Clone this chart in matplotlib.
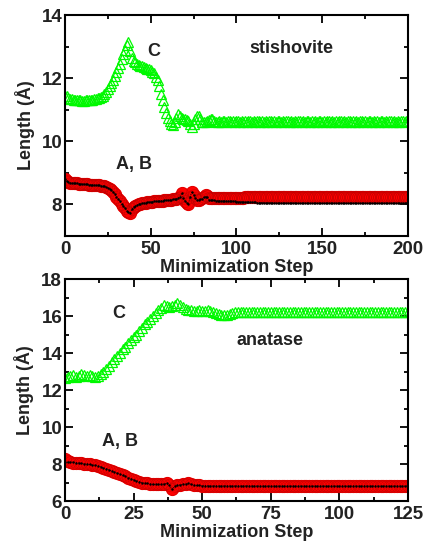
import numpy as np
import matplotlib.pyplot as plt
from matplotlib.ticker import MultipleLocator

plt.rcParams['font.family'] = ['Liberation Sans', 'DejaVu Sans']
plt.rcParams['font.weight'] = 'bold'
plt.rcParams['axes.labelweight'] = 'bold'

# stishovite cell lengths, one value per step (0..200)
stish_step = np.arange(0, 201)
stish_c = [11.45, 11.42, 11.38, 11.35, 11.33, 11.32, 11.30, 11.30, 11.31, 11.30,
           11.28, 11.29, 11.30, 11.31, 11.30, 11.30, 11.32, 11.33, 11.35, 11.36,
           11.38, 11.41, 11.45, 11.50, 11.55, 11.65, 11.75, 11.85, 11.95, 12.08,
           12.20, 12.32, 12.45, 12.60, 12.75, 12.90, 13.05, 13.15, 12.85, 12.65,
           12.55, 12.50, 12.45, 12.42, 12.40, 12.38, 12.35, 12.32, 12.30, 12.28,
           12.25, 12.20, 12.15, 12.05, 11.95, 11.75, 11.50, 11.30, 11.10, 10.90,
           10.75, 10.65, 10.55, 10.52, 10.60, 10.75, 10.85, 10.80, 10.75, 10.72,
           10.70, 10.68, 10.65, 10.55, 10.45, 10.55, 10.70, 10.80, 10.80, 10.70,
           10.62, 10.60, 10.60, 10.65, 10.68, 10.72, 10.70, 10.65, 10.62, 10.62,
           10.63, 10.62, 10.64, 10.63, 10.62, 10.63, 10.64, 10.62, 10.63, 10.62,
           10.63, 10.64, 10.62, 10.63, 10.62, 10.63, 10.62, 10.64, 10.63, 10.62,
           10.63, 10.62, 10.63, 10.64, 10.62, 10.63, 10.62, 10.63, 10.62, 10.64,
           10.63, 10.62, 10.63, 10.62, 10.64, 10.63, 10.62, 10.63, 10.62, 10.63,
           10.64, 10.62, 10.63, 10.62, 10.63, 10.62, 10.64, 10.63, 10.62, 10.63,
           10.62, 10.63, 10.64, 10.62, 10.63, 10.62, 10.63, 10.62, 10.64, 10.63,
           10.62, 10.63, 10.62, 10.63, 10.64, 10.62, 10.63, 10.62, 10.63, 10.62,
           10.64, 10.63, 10.62, 10.63, 10.62, 10.63, 10.64, 10.62, 10.63, 10.62,
           10.63, 10.62, 10.64, 10.63, 10.62, 10.63, 10.62, 10.63, 10.64, 10.62,
           10.63, 10.62, 10.63, 10.62, 10.64, 10.63, 10.62, 10.63, 10.62, 10.63,
           10.64, 10.62, 10.63, 10.62, 10.63, 10.62, 10.64, 10.63, 10.62, 10.63,
           10.63]
stish_a = [8.80, 8.74, 8.70, 8.69, 8.68, 8.68, 8.67, 8.67, 8.66, 8.66,
           8.65, 8.65, 8.64, 8.64, 8.63, 8.63, 8.62, 8.62, 8.61, 8.61,
           8.60, 8.59, 8.58, 8.57, 8.55, 8.53, 8.50, 8.46, 8.40, 8.33,
           8.25, 8.18, 8.10, 8.02, 7.95, 7.88, 7.80, 7.75, 7.72, 7.85,
           7.92, 7.95, 7.98, 8.00, 8.02, 8.04, 8.05, 8.06, 8.07, 8.08,
           8.08, 8.09, 8.10, 8.10, 8.10, 8.11, 8.12, 8.12, 8.13, 8.13,
           8.14, 8.14, 8.15, 8.16, 8.17, 8.18, 8.20, 8.25, 8.35, 8.20,
           8.10, 8.05, 8.00, 8.25, 8.40, 8.30, 8.20, 8.15, 8.15, 8.18,
           8.20, 8.25, 8.30, 8.28, 8.20, 8.19, 8.19, 8.19, 8.20, 8.20,
           8.20, 8.20, 8.20, 8.20, 8.20, 8.21, 8.21, 8.21, 8.21, 8.21,
           8.21, 8.21, 8.21, 8.21, 8.21, 8.22, 8.22, 8.22, 8.22, 8.22,
           8.22, 8.22, 8.22, 8.22, 8.22, 8.22, 8.22, 8.23, 8.23, 8.23,
           8.23, 8.23, 8.23, 8.23, 8.23, 8.23, 8.23, 8.23, 8.23, 8.24,
           8.24, 8.24, 8.24, 8.24, 8.24, 8.24, 8.24, 8.24, 8.24, 8.24,
           8.24, 8.24, 8.24, 8.25, 8.25, 8.25, 8.25, 8.25, 8.25, 8.25,
           8.25, 8.25, 8.25, 8.25, 8.25, 8.25, 8.25, 8.25, 8.25, 8.25,
           8.25, 8.25, 8.25, 8.25, 8.25, 8.25, 8.25, 8.25, 8.25, 8.25,
           8.25, 8.25, 8.25, 8.25, 8.25, 8.25, 8.24, 8.24, 8.24, 8.24,
           8.24, 8.24, 8.24, 8.24, 8.24, 8.24, 8.24, 8.24, 8.24, 8.24,
           8.24, 8.24, 8.24, 8.24, 8.24, 8.24, 8.24, 8.24, 8.24, 8.24,
           8.24]
stish_b = [8.80, 8.74, 8.70, 8.69, 8.68, 8.68, 8.67, 8.67, 8.66, 8.66,
           8.65, 8.65, 8.64, 8.64, 8.63, 8.63, 8.62, 8.62, 8.61, 8.61,
           8.60, 8.59, 8.58, 8.57, 8.55, 8.53, 8.50, 8.46, 8.40, 8.33,
           8.25, 8.18, 8.10, 8.02, 7.95, 7.88, 7.80, 7.75, 7.72, 7.85,
           7.92, 7.95, 7.98, 8.00, 8.02, 8.04, 8.05, 8.06, 8.07, 8.08,
           8.08, 8.09, 8.10, 8.10, 8.10, 8.11, 8.12, 8.12, 8.13, 8.13,
           8.14, 8.14, 8.15, 8.16, 8.17, 8.18, 8.20, 8.25, 8.35, 8.20,
           8.10, 8.05, 8.00, 8.25, 8.40, 8.30, 8.20, 8.15, 8.15, 8.18,
           8.18, 8.22, 8.25, 8.22, 8.15, 8.14, 8.13, 8.13, 8.12, 8.12,
           8.12, 8.12, 8.11, 8.11, 8.11, 8.11, 8.10, 8.10, 8.10, 8.10,
           8.09, 8.09, 8.09, 8.09, 8.08, 8.08, 8.08, 8.08, 8.07, 8.07,
           8.07, 8.07, 8.06, 8.06, 8.06, 8.06, 8.06, 8.05, 8.05, 8.05,
           8.05, 8.05, 8.05, 8.04, 8.04, 8.04, 8.04, 8.04, 8.04, 8.04,
           8.04, 8.04, 8.04, 8.04, 8.04, 8.03, 8.03, 8.03, 8.03, 8.03,
           8.03, 8.03, 8.03, 8.03, 8.03, 8.03, 8.03, 8.03, 8.03, 8.03,
           8.03, 8.03, 8.03, 8.03, 8.03, 8.03, 8.03, 8.03, 8.03, 8.03,
           8.03, 8.03, 8.03, 8.03, 8.03, 8.03, 8.03, 8.03, 8.03, 8.03,
           8.03, 8.03, 8.03, 8.03, 8.03, 8.03, 8.03, 8.03, 8.03, 8.03,
           8.03, 8.03, 8.03, 8.03, 8.03, 8.03, 8.03, 8.03, 8.03, 8.03,
           8.03, 8.03, 8.03, 8.03, 8.03, 8.03, 8.03, 8.03, 8.03, 8.03,
           8.03]

# anatase, one value per step (0..125)
anat_step = np.arange(0, 126)
anat_c = [12.65, 12.70, 12.75, 12.80, 12.72, 12.78, 12.85, 12.80, 12.75, 12.82,
          12.78, 12.72, 12.75, 12.85, 13.00, 13.15, 13.30, 13.50, 13.70, 13.85,
          14.00, 14.20, 14.35, 14.55, 14.70, 14.85, 15.00, 15.20, 15.35, 15.55,
          15.70, 15.85, 16.00, 16.15, 16.30, 16.45, 16.60, 16.55, 16.50, 16.55,
          16.60, 16.72, 16.60, 16.50, 16.40, 16.30, 16.30, 16.25, 16.28, 16.30,
          16.25, 16.28, 16.30, 16.25, 16.20, 16.15, 16.10, 16.05, 16.05, 16.08,
          16.12, 16.18, 16.20, 16.22, 16.20, 16.22, 16.20, 16.22, 16.20, 16.22,
          16.20, 16.22, 16.20, 16.22, 16.20, 16.22, 16.20, 16.22, 16.20, 16.22,
          16.20, 16.22, 16.20, 16.22, 16.20, 16.22, 16.20, 16.22, 16.20, 16.22,
          16.20, 16.22, 16.20, 16.22, 16.20, 16.22, 16.20, 16.22, 16.20, 16.22,
          16.20, 16.22, 16.20, 16.22, 16.20, 16.22, 16.20, 16.22, 16.20, 16.22,
          16.20, 16.22, 16.20, 16.22, 16.20, 16.22, 16.20, 16.22, 16.20, 16.22,
          16.20, 16.22, 16.20, 16.22, 16.20, 16.20]
anat_a = [8.28, 8.15, 8.10, 8.08, 8.06, 8.05, 8.03, 8.02, 8.00, 7.98,
          7.95, 7.93, 7.90, 7.85, 7.80, 7.75, 7.70, 7.63, 7.57, 7.51,
          7.45, 7.39, 7.33, 7.27, 7.21, 7.15, 7.10, 7.05, 7.00, 6.97,
          6.95, 6.93, 6.90, 6.90, 6.90, 6.90, 6.92, 6.95, 6.85, 6.65,
          6.80, 6.85, 6.88, 6.90, 6.92, 6.95, 6.90, 6.85, 6.84, 6.84,
          6.83, 6.83, 6.83, 6.82, 6.82, 6.82, 6.82, 6.82, 6.82, 6.82,
          6.82, 6.82, 6.82, 6.82, 6.82, 6.82, 6.82, 6.82, 6.82, 6.82,
          6.82, 6.82, 6.82, 6.82, 6.82, 6.82, 6.82, 6.82, 6.82, 6.82,
          6.82, 6.82, 6.82, 6.82, 6.82, 6.82, 6.82, 6.82, 6.82, 6.82,
          6.82, 6.82, 6.82, 6.82, 6.82, 6.82, 6.82, 6.82, 6.82, 6.82,
          6.82, 6.82, 6.82, 6.82, 6.82, 6.82, 6.82, 6.82, 6.82, 6.82,
          6.82, 6.82, 6.82, 6.82, 6.82, 6.82, 6.82, 6.82, 6.82, 6.82,
          6.82, 6.82, 6.82, 6.82, 6.82, 6.82]
anat_b = [8.10, 8.10, 8.10, 8.10, 8.08, 8.06, 8.03, 8.02, 8.00, 7.98,
          7.95, 7.93, 7.90, 7.85, 7.80, 7.75, 7.70, 7.63, 7.57, 7.51,
          7.45, 7.39, 7.33, 7.27, 7.21, 7.15, 7.10, 7.05, 7.00, 6.97,
          6.95, 6.93, 6.90, 6.90, 6.90, 6.90, 6.92, 6.95, 6.85, 6.65,
          6.80, 6.85, 6.88, 6.90, 6.92, 6.95, 6.90, 6.85, 6.84, 6.84,
          6.83, 6.83, 6.83, 6.82, 6.82, 6.82, 6.82, 6.82, 6.82, 6.82,
          6.82, 6.82, 6.82, 6.82, 6.82, 6.82, 6.82, 6.82, 6.82, 6.82,
          6.81, 6.81, 6.81, 6.81, 6.81, 6.81, 6.81, 6.81, 6.81, 6.81,
          6.81, 6.81, 6.81, 6.81, 6.81, 6.81, 6.81, 6.81, 6.81, 6.81,
          6.81, 6.81, 6.81, 6.81, 6.81, 6.81, 6.81, 6.81, 6.81, 6.81,
          6.81, 6.81, 6.81, 6.81, 6.81, 6.81, 6.81, 6.81, 6.81, 6.81,
          6.81, 6.81, 6.81, 6.81, 6.81, 6.81, 6.81, 6.81, 6.81, 6.81,
          6.81, 6.81, 6.81, 6.81, 6.81, 6.81]

GREEN = '#00f800'
RED = '#ff0000'
TXT = '#222222'


def draw_panel(ax, x, c, a, b):
    ax.plot(x, c, ls='none', marker='^', ms=7, mfc='none', mec=GREEN, mew=0.9)
    ax.plot(x, a, color=RED, lw=6, marker='o', ms=8.5, mfc=RED, mec=RED, mew=1.0)
    ax.plot(x, a, ls='none', marker='o', ms=8.5, mfc='none', mec='#b00000', mew=0.5, alpha=0.5)
    ax.plot(x, b, color='black', lw=0.6, ls=':', marker='.', ms=1.5)
    ax.tick_params(which='both', direction='in', top=True, right=True,
                   labelsize=13.5, colors='black', labelcolor=TXT, width=1.3)
    ax.tick_params(which='major', length=6)
    ax.tick_params(which='minor', length=3)
    ax.tick_params(axis='x', which='major', pad=3.5)
    ax.tick_params(axis='y', which='major', pad=2)
    for lab in ax.get_xticklabels() + ax.get_yticklabels():
        lab.set_fontweight('bold')
    for s in ax.spines.values():
        s.set_linewidth(1.5)
    ax.set_ylabel('Length (Å)', fontsize=13, fontweight='bold', color=TXT, labelpad=5)
    ax.set_xlabel('Minimization Step', fontsize=13, fontweight='bold', color=TXT, labelpad=0.5)


fig = plt.figure(figsize=(4.26, 5.46), dpi=100)

ax1 = fig.add_axes([0.1526, 0.5678, 0.805, 0.4047])
ax1.set_xlim(0, 200)
ax1.set_ylim(7, 14)
ax1.xaxis.set_major_locator(MultipleLocator(50))
ax1.xaxis.set_minor_locator(MultipleLocator(25))
ax1.yaxis.set_major_locator(MultipleLocator(2))
ax1.yaxis.set_minor_locator(MultipleLocator(1))
draw_panel(ax1, stish_step, stish_c, stish_a, stish_b)
ax1.text(52, 12.83, 'C', fontsize=13, fontweight='bold', color=TXT, ha='center', va='center')
ax1.text(132, 12.95, 'stishovite', fontsize=13, fontweight='bold', color=TXT, ha='center', va='center')
ax1.text(40, 9.28, 'A, B', fontsize=13, fontweight='bold', color=TXT, ha='center', va='center')

ax2 = fig.add_axes([0.1526, 0.0824, 0.805, 0.4066])
ax2.set_xlim(0, 125)
ax2.set_ylim(6, 18)
ax2.xaxis.set_major_locator(MultipleLocator(25))
ax2.xaxis.set_minor_locator(MultipleLocator(12.5))
ax2.yaxis.set_major_locator(MultipleLocator(2))
ax2.yaxis.set_minor_locator(MultipleLocator(1))
draw_panel(ax2, anat_step, anat_c, anat_a, anat_b)
ax2.text(19.7, 16.14, 'C', fontsize=13, fontweight='bold', color=TXT, ha='center', va='center')
ax2.text(74.7, 14.68, 'anatase', fontsize=13, fontweight='bold', color=TXT, ha='center', va='center')
ax2.text(20, 9.24, 'A, B', fontsize=13, fontweight='bold', color=TXT, ha='center', va='center')

fig.savefig('out.png', dpi=100)
